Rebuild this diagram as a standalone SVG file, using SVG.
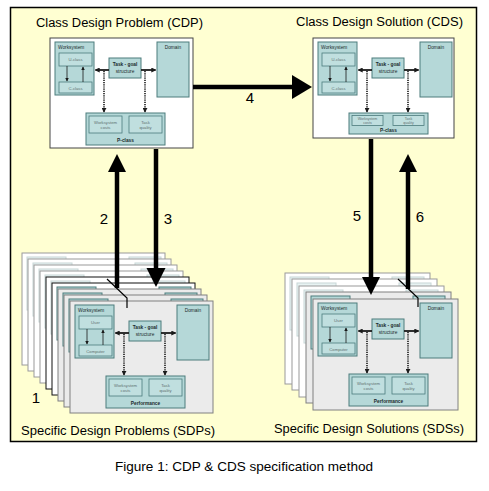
<svg xmlns="http://www.w3.org/2000/svg" width="489" height="491" viewBox="0 0 489 491">
<style>
.t{font-family:"Liberation Sans",Arial,sans-serif;fill:#000}
.title{font-size:12.5px}
.num{font-size:15px}
.cap{font-size:13px}
.box{fill:#b5d8d8;stroke:#4c7c7d;stroke-width:1}
.ibox{fill:#c0dfdf;stroke:#4c7c7d;stroke-width:0.8}
.s{font-family:"Liberation Sans",Arial,sans-serif;font-size:4.8px;fill:#1b2b2b}
.g{font-family:"Liberation Sans",Arial,sans-serif;font-size:4.2px;fill:#5f7070;text-anchor:middle}
.m{text-anchor:middle}
.b{font-weight:bold}
.thick{stroke:#000;stroke-width:4.5;fill:none}
.mid{stroke:#1a1a1a;stroke-width:1.8;fill:none}
.dot{stroke:#1a1a1a;stroke-width:1.6;stroke-dasharray:1.2 1;fill:none}
.thin{stroke:#1a1a1a;stroke-width:0.8;fill:none}
.pg{fill:#ebebeb;stroke:#808080;stroke-width:1}
.bk{fill:#fff;stroke:#9a9a9a;stroke-width:1}
.bkb{fill:#fff;stroke:#111;stroke-width:1}
.fade{opacity:0.3}
</style>
<defs>
<marker id="m1" viewBox="0 0 6 6" refX="5" refY="3" markerWidth="5" markerHeight="5" orient="auto" markerUnits="userSpaceOnUse"><path d="M0,0L6,3L0,6z" fill="#1a1a1a"/></marker>
<marker id="m2" viewBox="0 0 6 6" refX="5" refY="3" markerWidth="3.5" markerHeight="3.5" orient="auto" markerUnits="userSpaceOnUse"><path d="M0,0L6,3L0,6z" fill="#1a1a1a"/></marker>
<g id="core">
<rect class="box" x="5" y="4" width="39" height="53"/>
<text class="s" x="8" y="10.5">Worksystem</text>
<rect class="ibox" x="9" y="15" width="33" height="13"/>
<rect class="ibox" x="9" y="44" width="33" height="11"/>
<path class="thin" d="M17,28V43" marker-end="url(#m2)"/>
<path class="thin" d="M33,44V29" marker-end="url(#m2)"/>
<rect class="box" x="107" y="4" width="32" height="55"/>
<text class="s m" x="123" y="11">Domain</text>
<rect class="box" x="59" y="20" width="32" height="20"/>
<text class="s m b" x="75" y="28">Task - goal</text>
<text class="s m" x="75" y="35">structure</text>
<path class="mid" d="M59,32H45.5" marker-end="url(#m1)"/>
<path class="mid" d="M91,32H105.5" marker-end="url(#m1)"/>
<path class="dot" d="M54,33V74" marker-end="url(#m1)"/>
<path class="dot" d="M95,33V74" marker-end="url(#m1)"/>
</g>
<g id="perf">
<rect class="box" x="36" y="75" width="79" height="32"/>
<rect class="ibox" x="39" y="78" width="33" height="17"/>
<rect class="ibox" x="79" y="78" width="33" height="17"/>
<text class="g" x="55.5" y="85.5">Worksystem</text>
<text class="g" x="55.5" y="91">costs</text>
<text class="g" x="95.5" y="85.5">Task</text>
<text class="g" x="95.5" y="91">quality</text>
</g>
<g id="back"><use href="#core"/><use href="#perf"/></g>
</defs>

<rect x="10.5" y="7.5" width="466" height="434" fill="#ffffd2" stroke="#000" stroke-width="1.5"/>

<g id="CDP">
<text class="t title" x="36" y="27" textLength="167" lengthAdjust="spacingAndGlyphs">Class Design Problem (CDP)</text>
<g transform="translate(50,38)">
<rect x="0" y="0" width="143" height="110" fill="#fff" stroke="#444" stroke-width="1"/>
<use href="#core"/>
<text class="g" x="25.5" y="23">U-class</text>
<text class="g" x="25.5" y="51.5">C-class</text>
<use href="#perf"/>
<text class="s m b" x="75.5" y="104">P-class</text>
</g>
</g>

<g id="CDS">
<text class="t title" x="296" y="26" textLength="167" lengthAdjust="spacingAndGlyphs">Class Design Solution (CDS)</text>
<g transform="translate(313,38)">
<rect x="0" y="0" width="141" height="100" fill="#fff" stroke="#444" stroke-width="1"/>
<use href="#core"/>
<text class="g" x="25.5" y="23">U-class</text>
<text class="g" x="25.5" y="51.5">C-class</text>
<rect class="box" x="36" y="75" width="79" height="21"/>
<rect class="ibox" x="39" y="77.5" width="31" height="10"/>
<rect class="ibox" x="80" y="77.5" width="31" height="10"/>
<text class="g" x="54.5" y="81.8" style="font-size:3.6px">Worksystem</text>
<text class="g" x="54.5" y="86.2" style="font-size:3.6px">costs</text>
<text class="g" x="95.5" y="81.8" style="font-size:3.6px">Task</text>
<text class="g" x="95.5" y="86.2" style="font-size:3.6px">quality</text>
<text class="s m b" x="75.5" y="94">P-class</text>
</g>
</g>

<g id="SDP">
<g transform="translate(22,253)"><rect class="bk" width="143" height="112"/><use href="#back" class="fade"/></g>
<g transform="translate(28,259)"><rect class="bk" width="143" height="112"/><use href="#back" class="fade"/></g>
<g transform="translate(34,265)"><rect class="bk" width="143" height="112"/><use href="#back" class="fade"/></g>
<g transform="translate(40,271)"><rect class="bk" width="143" height="112"/><use href="#back" class="fade"/></g>
<g transform="translate(46,277)"><rect class="bkb" width="143" height="112"/><use href="#back" class="fade"/></g>
<g transform="translate(52,283)"><rect class="bkb" width="143" height="112"/><use href="#back"/></g>
<g transform="translate(58,289)"><rect class="pg" width="143" height="112"/><use href="#back"/></g>
<g transform="translate(64,295)"><rect class="pg" width="143" height="112"/><use href="#back"/></g>
<g transform="translate(70,301)">
<rect class="pg" width="143" height="112"/>
<use href="#core"/>
<text class="g" x="25.5" y="23">User</text>
<text class="g" x="25.5" y="51.5">Computer</text>
<use href="#perf"/>
<text class="s m b" x="75.5" y="104">Performance</text>
</g>
<text class="t title" x="21" y="435" textLength="194" lengthAdjust="spacingAndGlyphs">Specific Design Problems (SDPs)</text>
</g>

<g id="SDS">
<g transform="translate(285,273)"><rect class="bk" width="145" height="111"/><use href="#back" class="fade"/></g>
<g transform="translate(292,279)"><rect class="bk" width="145" height="111"/><use href="#back" class="fade"/></g>
<g transform="translate(299,286)"><rect class="bk" width="145" height="111"/><use href="#back" class="fade"/></g>
<g transform="translate(306,292)"><rect class="pg" width="145" height="111"/><use href="#back"/></g>
<g transform="translate(313,299)">
<rect class="pg" width="145" height="111"/>
<use href="#core"/>
<text class="g" x="25.5" y="23">User</text>
<text class="g" x="25.5" y="51.5">Computer</text>
<use href="#perf"/>
<text class="s m b" x="75.5" y="104">Performance</text>
</g>
<text class="t title" x="274" y="433" textLength="190" lengthAdjust="spacingAndGlyphs">Specific Design Solutions (SDSs)</text>
</g>

<g id="connectors">
<path class="thick" d="M117,170V288"/>
<polygon points="117,154 108,172 126,172"/>
<path class="thick" d="M156,149V270"/>
<polygon points="156,287 146.5,268 165.5,268"/>
<path class="thick" d="M193,87H294"/>
<polygon points="312,87 292,75 292,99"/>
<path class="thick" d="M371,139V279"/>
<polygon points="371,295 362,277 380,277"/>
<path class="thick" d="M408,170V289"/>
<polygon points="408,154 399,172 417,172"/>
<polyline points="107,279 127,298 127,308" fill="none" stroke="#000" stroke-width="1.2"/>
<polyline points="398,279 418,298 418,307" fill="none" stroke="#000" stroke-width="1.2"/>
<text class="t num m" x="104" y="224">2</text>
<text class="t num m" x="168" y="224">3</text>
<text class="t num m" x="250" y="103">4</text>
<text class="t num m" x="357" y="221">5</text>
<text class="t num m" x="420" y="222">6</text>
<text class="t num m" x="36" y="403">1</text>
</g>

<text class="t cap m" x="244" y="471" textLength="258" lengthAdjust="spacingAndGlyphs">Figure 1: CDP &amp; CDS specification method</text>
</svg>
